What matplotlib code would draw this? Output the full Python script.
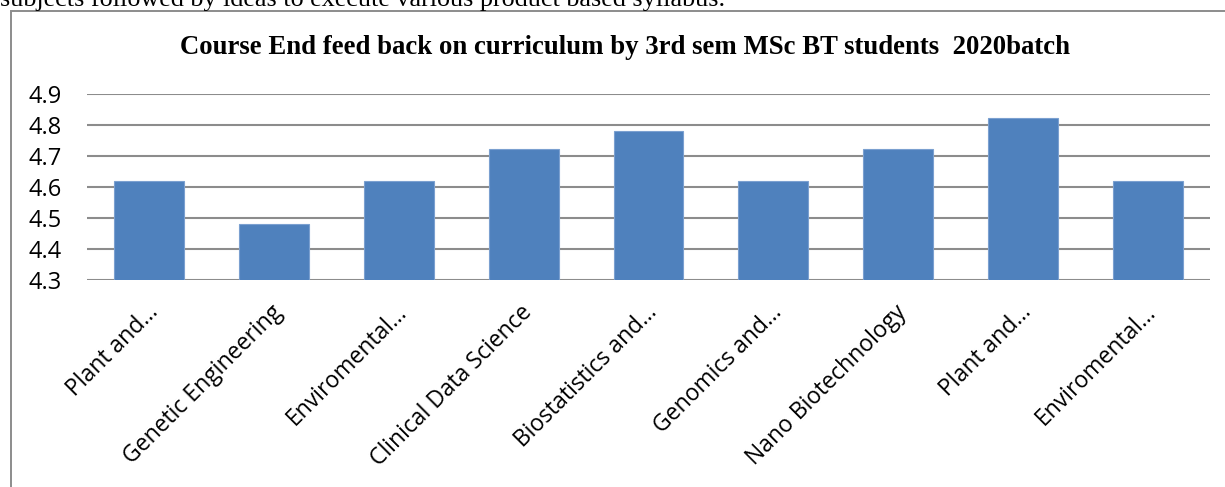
import matplotlib
matplotlib.use("Agg")
import matplotlib.pyplot as plt
import matplotlib.transforms as mtransforms
from matplotlib.patches import Rectangle

# data
subjects = ["Plant and…", "Genetic Engineering", "Enviromental…", "Clinical Data Science",
            "Biostatistics and…", "Genomics and…", "Nano Biotechnology", "Plant and…",
            "Enviromental…"]
scores = [4.62, 4.48, 4.62, 4.72, 4.78, 4.62, 4.72, 4.82, 4.62]
yticks = [4.3, 4.4, 4.5, 4.6, 4.7, 4.8, 4.9]
title = "Course End feed back on curriculum by 3rd sem MSc BT students  2020batch"
header = "subjects followed by ideas to execute various product based syllabus."

W, H = 1225, 487
fig = plt.figure(figsize=(W / 100, H / 100), dpi=100)

# cut-off document text line above the chart box
fig.text(0 / W, 1 - 6 / H, header, family="Liberation Serif", fontsize=18.8,
         ha="left", va="baseline", color="black")

# chart border (extends past right and bottom edge)
fig.patches.append(Rectangle((10.5 / W, -0.1), 1.2, 1 - 10.5 / H + 0.1, transform=fig.transFigure,
                             fill=False, edgecolor="#8c8c8c", linewidth=1.4, zorder=0))

ax = fig.add_axes([87 / W, 1 - 280 / H, (1210 - 87) / W, (280 - 93.5) / H])
x = range(len(subjects))
ax.bar(x, scores, width=0.56, bottom=0, color="#4F81BD", edgecolor="#7BA0D0",
       linewidth=0.8, zorder=3)
ax.set_xlim(-0.5, len(subjects) - 0.5)
ax.set_ylim(4.3, 4.9)
ax.set_yticks(yticks)
ax.set_yticklabels([f"{v:.1f}" for v in yticks], family="Open Sans", fontsize=17)
ax.yaxis.grid(True, color="#8c8c8c", linewidth=1.5, zorder=0)
ax.set_axisbelow(True)
for s in ax.spines.values():
    s.set_visible(False)
ax.tick_params(axis="y", length=0, pad=18)
ax.tick_params(axis="x", length=0, pad=21)
ax.set_xticks(list(x))
ax.set_xticklabels(subjects, family="Open Sans", fontsize=16.5, rotation=45,
                   ha="right", va="center", rotation_mode="anchor")
off = mtransforms.ScaledTranslation(5 / 100, 0, fig.dpi_scale_trans)
for lab in ax.get_xticklabels():
    lab.set_transform(lab.get_transform() + off)

fig.text(625 / W, 1 - 47 / H, title, family="Liberation Serif", fontweight="bold",
         fontsize=19.3, ha="center", va="center")

fig.savefig("out.png", dpi=100, facecolor="white")
